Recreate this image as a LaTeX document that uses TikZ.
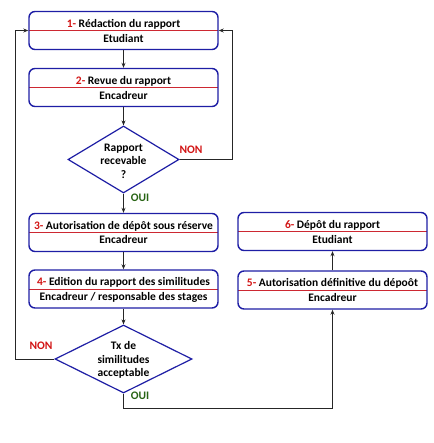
\documentclass[tikz,border=0pt]{standalone}
\usepackage{fontspec}
\setmainfont{Carlito}
\usetikzlibrary{shapes.geometric,arrows.meta}
\definecolor{bordblue}{RGB}{30,30,165}
\definecolor{numred}{RGB}{210,20,20}
\definecolor{linered}{RGB}{205,40,50}
\definecolor{ouigreen}{RGB}{40,100,20}
\begin{document}
\begin{tikzpicture}[x=1pt,y=-1pt,
  stepbox/.style={draw=bordblue, line width=1.4pt, rounded corners=6pt, fill=white,
    minimum width=189pt, minimum height=38pt, inner sep=0pt,
    path picture={\draw[linered, line width=0.9pt] (path picture bounding box.west) -- (path picture bounding box.east);}},
  boxtxt/.style={font=\bfseries\fontsize{11.5}{13}\selectfont, align=center, inner sep=0pt},
  dia/.style={diamond, draw=bordblue, line width=1.2pt, inner sep=0pt, fill=white},
  diatxt/.style={font=\bfseries\fontsize{11.5}{13.5}\selectfont, align=center, inner sep=0pt},
  conn/.style={draw=black!85, line width=0.9pt},
  arr/.style={conn, -{Stealth[length=5pt,width=4pt]}},
  lab/.style={font=\bfseries\fontsize{11.5}{12}\selectfont, inner sep=0pt}
]
\useasboundingbox (0,0) rectangle (433,443);

% boxes
\node[stepbox] (b1) at (123.5,30.5) {};
\node[boxtxt] (b1a) at (123.5,24.5) {\textcolor{numred}{1-} Rédaction du rapport};
\node[boxtxt] (b1b) at (123.5,38.5) {Etudiant};

\node[stepbox] (b2) at (123.5,87.5) {};
\node[boxtxt] (b2a) at (123.5,81.5) {\textcolor{numred}{2-} Revue du rapport};
\node[boxtxt] (b2b) at (123.5,95.5) {Encadreur};

\node[dia, minimum width=111pt, minimum height=67pt] (d1) at (123.5,159.5) {};
\node[diatxt] (d1t) at (123.5,161) {Rapport\\recevable\\?};

\node[stepbox] (b3) at (123.5,232.5) {};
\node[boxtxt] (b3a) at (123.5,226) {\textcolor{numred}{3-} Autorisation de dépôt sous réserve};
\node[boxtxt] (b3b) at (123.5,240) {Encadreur};

\node[stepbox] (b4) at (123.5,289) {};
\node[boxtxt] (b4a) at (123.5,282.5) {\textcolor{numred}{4-} Edition du rapport des similitudes};
\node[boxtxt] (b4b) at (123.5,297) {Encadreur / responsable des stages};

\node[dia, minimum width=137pt, minimum height=68pt] (d2) at (123.5,359) {};
\node[diatxt] (d2t) at (123.5,360) {Tx de\\similitudes\\acceptable};

\node[stepbox] (b6) at (332.5,231.5) {};
\node[boxtxt] (b6a) at (332.5,225.5) {\textcolor{numred}{6-} Dépôt du rapport};
\node[boxtxt] (b6b) at (332.5,239.5) {Etudiant};

\node[stepbox] (b5) at (332.5,290) {};
\node[boxtxt] (b5a) at (332.5,283.5) {\textcolor{numred}{5-} Autorisation définitive du dépoôt};
\node[boxtxt] (b5b) at (332.5,298) {Encadreur};

% coordinates
\coordinate (cl) at (15,0);
\coordinate (cr) at (232,0);
\coordinate (cb) at (0,408);

% connectors
\draw[arr] (b1) -- (b2);
\draw[arr] (b2) -- (d1);
\draw[arr] (d1) -- (b3);
\draw[arr] (b3) -- (b4);
\draw[arr] (b4) -- (d2);
\draw[arr] (b5) -- (b6);
\draw[arr] (d1.east) -- (cr |- d1.east) -- (cr |- b1.east) -- (b1.east);
\draw[arr] (d2.west) -- (cl |- d2.west) -- (cl |- b1.west) -- (b1.west);
\draw[arr] (d2.south) -- (d2.south |- cb) -- (b5.south |- cb) -- (b5.south);

% labels
\node[lab, text=numred] (non1) at (191,150) {NON};
\node[lab, text=ouigreen] (oui1) at (140,198) {OUI};
\node[lab, text=numred] (non2) at (41,346) {NON};
\node[lab, text=ouigreen] (oui2) at (140,396) {OUI};
\end{tikzpicture}
\end{document}
